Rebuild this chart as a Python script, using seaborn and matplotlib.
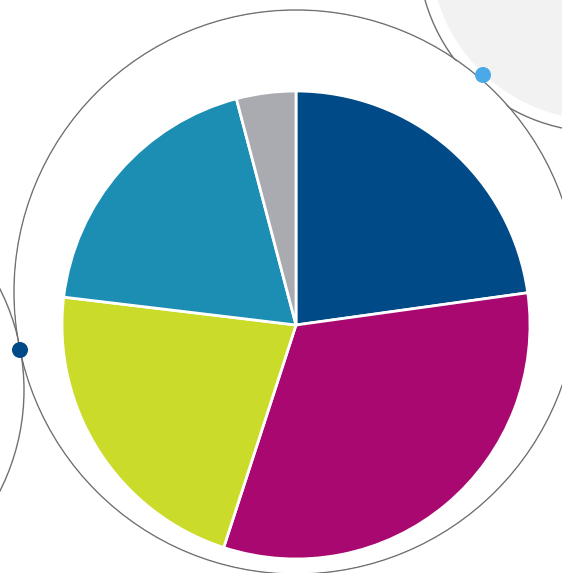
import matplotlib
matplotlib.use('Agg')
import matplotlib.pyplot as plt
import seaborn as sns
from matplotlib.patches import Circle

sns.set_theme(style='white')

# slice shares (percent), clockwise from 12 o'clock
labels = ['A', 'B', 'C', 'D', 'E']
shares = [22.8, 32.2, 21.9, 19.0, 4.1]
colors = ['#004a87', '#a8086f', '#cbdb2a', '#1c8db3', '#a9abb0']

W, H = 562, 573
fig = plt.figure(figsize=(W / 100, H / 100), dpi=100)
ax = fig.add_axes([0, 0, 1, 1])
ax.set_xlim(0, W)
ax.set_ylim(0, H)
ax.set_aspect('equal')
ax.axis('off')

# decorative rings
ax.add_patch(Circle((600, H + 50), 182, fill=False, ec='#707070', lw=1))
ax.add_patch(Circle((600, H + 50), 170, fc='#f2f2f2', ec='none'))
ax.add_patch(Circle((-200, H - 390), 224, fill=False, ec='#707070', lw=1))
ax.add_patch(Circle((296, H - 292), 282, fill=False, ec='#707070', lw=1))
ax.add_patch(Circle((296, H - 292), 281, fc='white', ec='none'))
ax.add_patch(Circle((20, H - 350), 8, fc='#004a87', ec='none', zorder=5))
ax.add_patch(Circle((483, H - 75), 8, fc='#4aaae8', ec='none', zorder=5))

ax.pie(shares, colors=colors, startangle=90, counterclock=False,
       center=(296, H - 325), radius=234,
       wedgeprops=dict(edgecolor='white', linewidth=2))
ax.set_xlim(0, W)
ax.set_ylim(0, H)

fig.savefig('out.png', dpi=100)
